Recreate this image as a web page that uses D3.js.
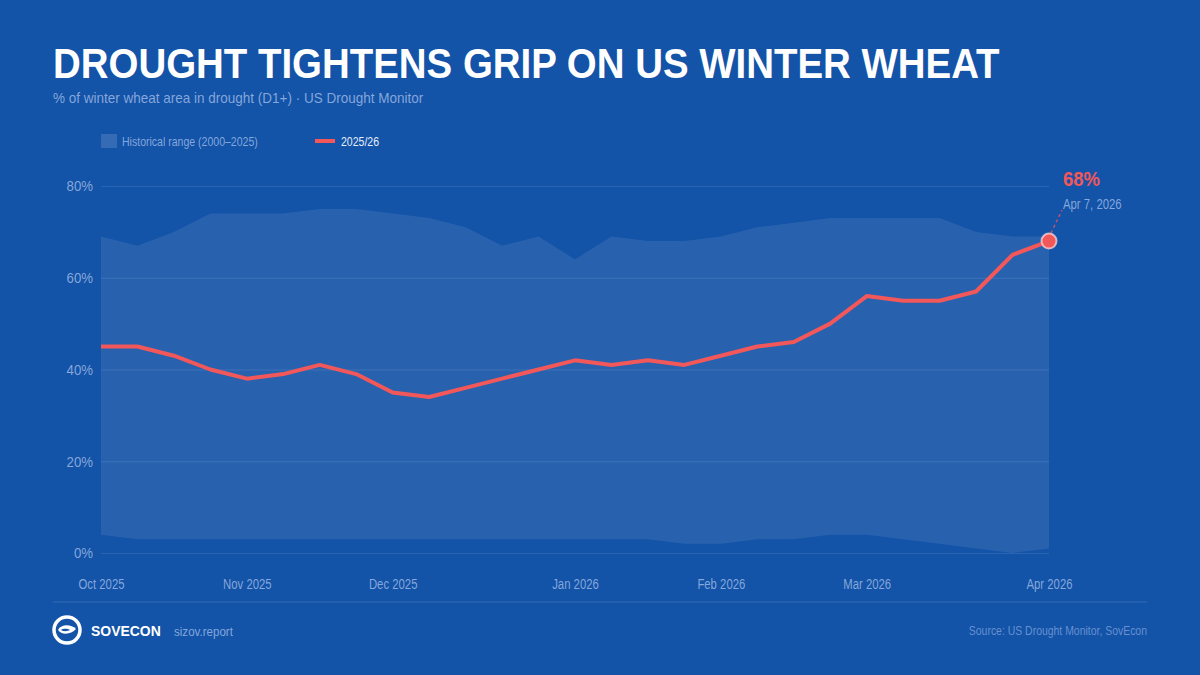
<!DOCTYPE html>
<html lang="en">
<head>
  <meta charset="UTF-8">
  <title>Drought Tightens Grip on US Winter Wheat</title>
  <script src="https://cdn.jsdelivr.net/npm/d3@7"></script>
  <style>
    body { margin: 0; background: #1353a8; }
    svg { display: block; }
  </style>
</head>
<body>
  <svg id="chart"></svg>
  <script>
    // weekly US Drought Monitor releases
    const weeks = [
      "2025-10-07", "2025-10-14", "2025-10-21", "2025-10-28",
      "2025-11-04", "2025-11-11", "2025-11-18", "2025-11-25",
      "2025-12-02", "2025-12-09", "2025-12-16", "2025-12-23", "2025-12-30",
      "2026-01-06", "2026-01-13", "2026-01-20", "2026-01-27",
      "2026-02-03", "2026-02-10", "2026-02-17", "2026-02-24",
      "2026-03-03", "2026-03-10", "2026-03-17", "2026-03-24", "2026-03-31",
      "2026-04-07"
    ];
    const current = [45, 45, 43, 40, 38, 39, 41, 39, 35, 34, 36, 38, 40, 42, 41, 42, 41, 43, 45, 46, 50, 56, 55, 55, 57, 65, 68];
    const histMax = [69, 67, 70, 74, 74, 74, 75, 75, 74, 73, 71, 67, 69, 64, 69, 68, 68, 69, 71, 72, 73, 73, 73, 73, 70, 69, 69];
    const histMin = [4, 3, 3, 3, 3, 3, 3, 3, 3, 3, 3, 3, 3, 3, 3, 3, 2, 2, 3, 3, 4, 4, 3, 2, 1, 0, 1];

    const tickWeeks = ["2025-10-07", "2025-11-04", "2025-12-02", "2026-01-06", "2026-02-03", "2026-03-03", "2026-04-07"];
    const tickLabels = ["Oct 2025", "Nov 2025", "Dec 2025", "Jan 2026", "Feb 2026", "Mar 2026", "Apr 2026"];
    const yTicks = [0, 20, 40, 60, 80];

    const width = 1200, height = 675;
    const margin = { top: 186, right: 151, bottom: 122, left: 101 };
    const red = "#f2575a";
    const muted = "rgba(180,202,238,0.72)";
    const sans = "'Liberation Sans', Arial, sans-serif";

    // no narrow face installed, so squeeze glyphs a bit
    function condense(sel, k) {
      sel.each(function () {
        const w = this.getComputedTextLength();
        d3.select(this)
          .attr("textLength", w * k)
          .attr("lengthAdjust", "spacingAndGlyphs");
      });
    }

    const svg = d3.select("#chart")
      .attr("width", width)
      .attr("height", height)
      .style("font-family", sans);

    svg.append("rect")
      .attr("width", width)
      .attr("height", height)
      .attr("fill", "#1353a8");

    const x = d3.scalePoint()
      .domain(weeks)
      .range([margin.left, width - margin.right]);

    const y = d3.scaleLinear()
      .domain([0, 80])
      .range([height - margin.bottom, margin.top]);

    // title block
    svg.append("text")
      .attr("x", 53).attr("y", 78)
      .attr("fill", "#fff")
      .style("font-weight", "bold")
      .style("font-size", "42px")
      .text("DROUGHT TIGHTENS GRIP ON US WINTER WHEAT")
      .call(condense, 0.915);

    svg.append("text")
      .attr("x", 53).attr("y", 103)
      .attr("fill", muted)
      .style("font-size", "15px")
      .text("% of winter wheat area in drought (D1+) · US Drought Monitor")
      .call(condense, 0.9);

    // legend
    const legend = svg.append("g").style("font-size", "13px");
    legend.append("rect")
      .attr("x", 101).attr("y", 134).attr("width", 16).attr("height", 14)
      .attr("fill", "rgba(255,255,255,0.14)");
    legend.append("text")
      .attr("x", 122).attr("y", 141).attr("dy", "0.35em")
      .attr("fill", muted)
      .text("Historical range (2000–2025)")
      .call(condense, 0.81);
    legend.append("line")
      .attr("x1", 315).attr("x2", 335).attr("y1", 141).attr("y2", 141)
      .attr("stroke", red).attr("stroke-width", 4);
    legend.append("text")
      .attr("x", 341).attr("y", 141).attr("dy", "0.35em")
      .attr("fill", "#e6eefa")
      .text("2025/26")
      .call(condense, 0.81);

    // gridlines
    svg.append("g")
      .attr("transform", `translate(${margin.left},0)`)
      .call(d3.axisLeft(y).tickValues(yTicks).tickSize(-(width - margin.left - margin.right)).tickFormat(""))
      .call(g => g.select(".domain").remove())
      .call(g => g.selectAll("line").attr("stroke", "rgba(255,255,255,0.1)"));

    // historical range band
    const band = d3.area()
      .x((d, i) => x(weeks[i]))
      .y0((d, i) => y(histMin[i]))
      .y1((d, i) => y(histMax[i]));

    svg.append("path")
      .datum(weeks)
      .attr("d", band)
      .attr("fill", "rgba(255,255,255,0.09)");

    // y axis labels
    svg.append("g")
      .attr("transform", `translate(${margin.left},0)`)
      .call(d3.axisLeft(y).tickValues(yTicks).tickSize(0).tickPadding(8).tickFormat(d => d + "%"))
      .call(g => g.select(".domain").remove())
      .call(g => g.selectAll("text")
        .attr("fill", muted)
        .style("font-family", sans)
        .style("font-size", "15px")
        .call(condense, 0.88));

    // x axis labels
    svg.append("g")
      .attr("transform", `translate(0,${height - margin.bottom})`)
      .call(d3.axisBottom(x).tickValues(tickWeeks).tickSize(0).tickPadding(26)
        .tickFormat(d => tickLabels[tickWeeks.indexOf(d)]))
      .call(g => g.select(".domain").remove())
      .call(g => g.selectAll("text")
        .attr("fill", muted)
        .style("font-family", sans)
        .style("font-size", "14px")
        .call(condense, 0.81));

    // current season line
    const line = d3.line()
      .x((d, i) => x(weeks[i]))
      .y(d => y(d));

    svg.append("path")
      .datum(current)
      .attr("d", line)
      .attr("fill", "none")
      .attr("stroke", red)
      .attr("stroke-width", 4)
      .attr("stroke-linejoin", "round");

    // last point callout
    const last = current.length - 1;
    const lx = x(weeks[last]), ly = y(current[last]);

    svg.append("line")
      .attr("x1", lx + 2).attr("y1", ly - 8)
      .attr("x2", lx + 13).attr("y2", ly - 31)
      .attr("stroke", red)
      .attr("stroke-width", 1.5)
      .attr("stroke-dasharray", "3,3")
      .attr("opacity", 0.75);

    svg.append("circle")
      .attr("cx", lx).attr("cy", ly).attr("r", 7.5)
      .attr("fill", red)
      .attr("stroke", "rgba(255,215,215,0.75)")
      .attr("stroke-width", 2);

    svg.append("text")
      .attr("x", lx + 14).attr("y", ly - 55)
      .attr("fill", red)
      .style("font-weight", "bold")
      .style("font-size", "21px")
      .text(current[last] + "%")
      .call(condense, 0.88);

    svg.append("text")
      .attr("x", lx + 14).attr("y", ly - 32)
      .attr("fill", muted)
      .style("font-size", "14px")
      .text(d3.timeFormat("%b %-d, %Y")(d3.timeParse("%Y-%m-%d")(weeks[last])))
      .call(condense, 0.81);

    // footer
    svg.append("line")
      .attr("x1", 53).attr("x2", 1147)
      .attr("y1", 602).attr("y2", 602)
      .attr("stroke", "rgba(255,255,255,0.15)");

    const logo = svg.append("g").attr("transform", "translate(67,630)");
    logo.append("circle")
      .attr("r", 13)
      .attr("fill", "none")
      .attr("stroke", "#fff")
      .attr("stroke-width", 3.5);
    logo.append("path")
      .attr("d", "M-9,0 C-6,-6 4,-6 9,-1 C4,5 -6,5 -9,0 Z")
      .attr("fill", "#fff");
    logo.append("path")
      .attr("d", "M-6,0 C-3,-2 1,-1 3,0 C1,1 -3,2 -6,0 Z")
      .attr("fill", "#1353a8");

    svg.append("text")
      .attr("x", 91).attr("y", 631).attr("dy", "0.35em")
      .attr("fill", "#fff")
      .style("font-weight", "bold")
      .style("font-size", "15px")
      .text("SOVECON")
      .call(condense, 0.93);

    svg.append("text")
      .attr("x", 174).attr("y", 631).attr("dy", "0.35em")
      .attr("fill", muted)
      .style("font-size", "13px")
      .text("sizov.report")
      .call(condense, 0.89);

    svg.append("text")
      .attr("x", 1147).attr("y", 631).attr("dy", "0.35em")
      .attr("text-anchor", "end")
      .attr("fill", "rgba(160,188,232,0.6)")
      .style("font-size", "12px")
      .text("Source: US Drought Monitor, SovEcon")
      .call(condense, 0.87);
  </script>
</body>
</html>
